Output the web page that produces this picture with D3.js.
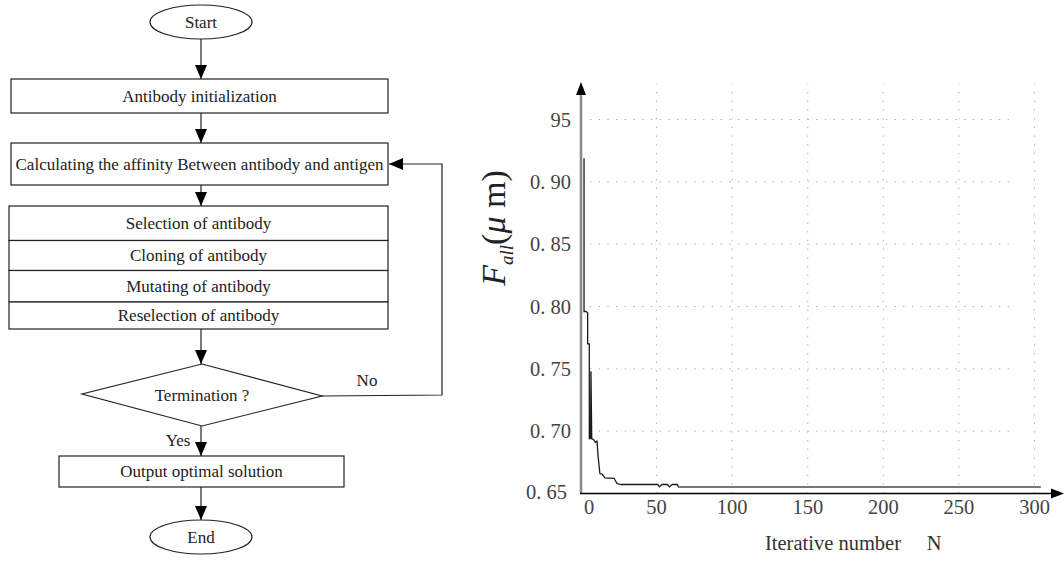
<!DOCTYPE html>
<html>
<head>
<meta charset="utf-8">
<script src="https://cdn.jsdelivr.net/npm/d3@7"></script>
<style>
  body { margin: 0; background: #fff; }
  svg { display: block; font-family: "Liberation Serif", "DejaVu Serif", serif; }
</style>
</head>
<body>
<script>
// flowchart text
const startLabel = "Start"
const endLabel = "End"
const initLabel = "Antibody initialization"
const affinityLabel = "Calculating the affinity Between antibody and antigen"
const operatorLabels = ["Selection of antibody", "Cloning of antibody", "Mutating of antibody", "Reselection of antibody"]
const decisionLabel = "Termination ?"
const outputLabel = "Output optimal solution"

// convergence curve
const iterations = [2, 2, 3.3, 4.4, 4.4, 5.5, 5.5, 6.3, 6.6, 7.1, 8.5, 9.5, 10.6, 11.3, 12.5, 13.9, 15.9, 21.9, 23.8, 26.5, 50.8, 51.9, 53.6, 57.2, 58.5, 60.3, 63.7, 64.5, 304]
const fitness    = [0.919, 0.796, 0.796, 0.795, 0.770, 0.770, 0.694, 0.694, 0.748, 0.694, 0.693, 0.691, 0.692, 0.680, 0.666, 0.6655, 0.6625, 0.6622, 0.658, 0.6572, 0.6572, 0.6553, 0.6572, 0.6572, 0.6553, 0.6572, 0.6572, 0.6553, 0.6553]
const xTicks = [0, 50, 100, 150, 200, 250, 300]
const yTicks = [0.65, 0.70, 0.75, 0.80, 0.85, 0.90, 0.95]
const yTickLabels = ["0. 65", "0. 70", "0. 75", "0. 80", "0. 85", "0. 90", "95"]

const width = 1064, height = 564

const svg = d3.select("body").append("svg")
    .attr("width", width)
    .attr("height", height)

const defs = svg.append("defs")
defs.append("marker")
    .attr("id", "head")
    .attr("markerUnits", "userSpaceOnUse")
    .attr("markerWidth", 14).attr("markerHeight", 14)
    .attr("viewBox", "0 0 14 14")
    .attr("refX", 14).attr("refY", 7)
    .attr("orient", "auto")
  .append("path")
    .attr("d", "M0,1L14,7L0,13Z")
    .attr("fill", "#000")

// ---------------- flowchart ----------------
const fc = svg.append("g")
    .attr("fill", "none")
    .attr("stroke", "#222")
    .attr("stroke-width", 1.2)
const cx = 201
const fs = 17

function label(x, y, t) {
  svg.append("text").attr("x", x).attr("y", y)
      .attr("text-anchor", "middle").attr("dy", "0.35em")
      .attr("font-size", fs).attr("fill", "#222").text(t)
}
function box(x0, x1, y0, y1, t) {
  fc.append("rect").attr("x", x0).attr("y", y0).attr("width", x1 - x0).attr("height", y1 - y0).attr("fill", "#fff")
  label((x0 + x1) / 2, (y0 + y1) / 2, t)
}
function ellipse(y, t) {
  fc.append("ellipse").attr("cx", cx).attr("cy", y).attr("rx", 51).attr("ry", 17).attr("fill", "#fff")
  label(cx, y, t)
}
function arrow(points) {
  fc.append("path").attr("d", d3.line()(points)).attr("marker-end", "url(#head)")
}

ellipse(22, startLabel)
arrow([[cx, 39], [cx, 79]])
box(11, 388, 79, 113, initLabel)
arrow([[cx, 113], [cx, 143]])
box(11, 388, 143, 185, affinityLabel)
arrow([[cx, 185], [cx, 206]])

const opY = d3.scaleOrdinal(operatorLabels, [[206, 240.5], [240.5, 270.5], [270.5, 302], [302, 329]])
operatorLabels.forEach(l => box(9, 388, opY(l)[0], opY(l)[1], l))

arrow([[cx, 329], [cx, 364]])
fc.append("path").attr("d", "M202,364L322,396L202,426L82,394Z").attr("fill", "#fff")
label(202, 395, decisionLabel)
// No loop back
arrow([[322, 396], [442, 395], [442, 164], [389, 164]])
label(367, 380, "No")
arrow([[cx, 426], [cx, 456]])
label(178, 440, "Yes")
box(59, 344, 456, 487, outputLabel)
arrow([[cx, 487], [cx, 520]])
ellipse(537, endLabel)

// ---------------- convergence chart ----------------
const x = d3.scaleLinear([0, 300], [581, 1034.5])
const y = d3.scaleLinear([0.65, 0.95], [493.5, 119.5])
const data = d3.zip(iterations, fitness)

const grid = svg.append("g")
    .attr("stroke", "#aaa")
    .attr("stroke-width", 1)
    .attr("stroke-dasharray", "1.3,7.4")
grid.selectAll("line.h")
  .data(yTicks.slice(1))
  .join("line")
    .attr("x1", 590).attr("x2", 1012)
    .attr("y1", d => y(d)).attr("y2", d => y(d))
grid.selectAll("line.v")
  .data(xTicks.slice(1))
  .join("line")
    .attr("class", "v")
    .attr("x1", d => x(d)).attr("x2", d => x(d))
    .attr("y1", y(0.65)).attr("y2", 84)

const line = d3.line()
    .x(d => x(d[0]))
    .y(d => y(d[1]))

svg.append("path")
    .attr("d", line(data))
    .attr("fill", "none")
    .attr("stroke", "#1a1a1a")
    .attr("stroke-width", 1.3)
svg.append("path")
    .attr("d", line(data.filter(d => d[0] >= 64.5)))
    .attr("fill", "none")
    .attr("stroke", "#777")
    .attr("stroke-width", 2)

// axes
svg.append("line")
    .attr("x1", x(0)).attr("x2", x(0))
    .attr("y1", y(0.65)).attr("y2", 92)
    .attr("stroke", "#888").attr("stroke-width", 2.5)
svg.append("path")
    .attr("d", `M${x(0)},82L${x(0) - 5},95L${x(0) + 5},95Z`)
    .attr("fill", "#000")
svg.append("line")
    .attr("x1", x(0) - 1).attr("x2", 1056)
    .attr("y1", y(0.65)).attr("y2", y(0.65))
    .attr("stroke", "#000").attr("stroke-width", 1.5)
svg.append("path")
    .attr("d", `M1064,${y(0.65)}L1051,${y(0.65) - 5}L1051,${y(0.65) + 5}Z`)
    .attr("fill", "#000")

svg.append("g")
    .attr("font-size", 20.5)
    .attr("fill", "#444")
    .attr("text-anchor", "end")
  .selectAll("text")
  .data(yTicks)
  .join("text")
    .attr("x", (d, i) => i === 0 ? 567 : 571)
    .attr("y", d => y(d) - (d === 0.65 ? 2 : 0))
    .attr("dy", "0.35em")
    .text((d, i) => yTickLabels[i])

svg.append("g")
    .attr("font-size", 20.5)
    .attr("fill", "#444")
    .attr("text-anchor", "middle")
  .selectAll("text")
  .data(xTicks)
  .join("text")
    .attr("x", d => x(d) + (d === 0 ? 8 : 0))
    .attr("y", 507)
    .attr("dy", "0.35em")
    .text(d => d)

svg.append("text")
    .attr("x", 765).attr("y", 543)
    .attr("dy", "0.35em")
    .attr("font-size", 20.5)
    .attr("fill", "#333")
    .attr("xml:space", "preserve")
    .text("Iterative number     N")

const yTitle = svg.append("text")
    .attr("transform", "translate(505,228) rotate(-90)")
    .attr("text-anchor", "middle")
    .attr("font-size", 34)
    .attr("fill", "#222")
yTitle.append("tspan").attr("font-style", "italic").text("F")
yTitle.append("tspan").attr("font-style", "italic").attr("font-size", 19).attr("dy", 8).text("all")
yTitle.append("tspan").attr("dy", -8).text("(")
yTitle.append("tspan").attr("font-style", "italic").text("μ")
yTitle.append("tspan").text(" m)")
</script>
</body>
</html>
